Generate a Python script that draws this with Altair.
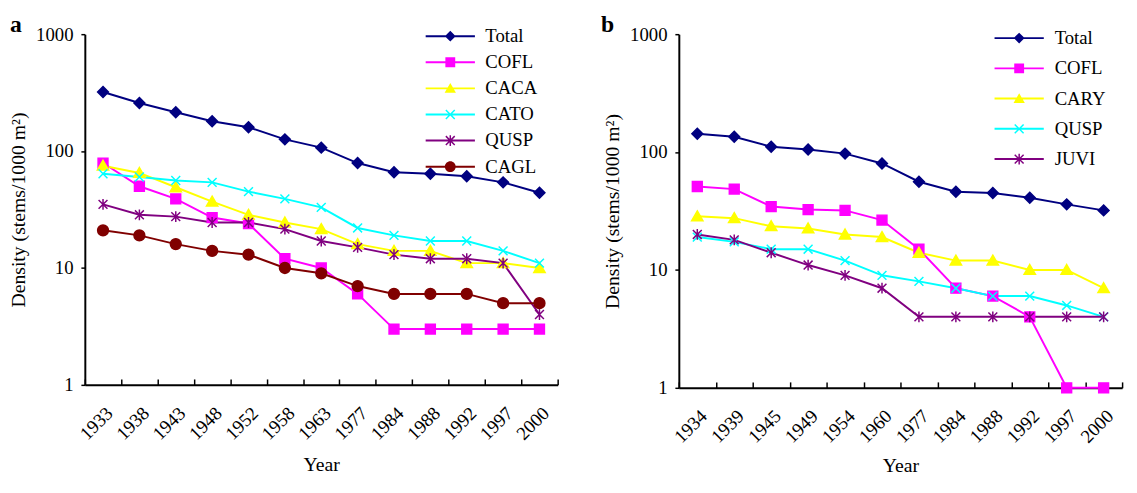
import altair as alt
import pandas as pd

# ---------------- data ----------------
years_a = ["1933", "1938", "1943", "1948", "1952", "1958", "1963", "1977", "1984", "1988", "1992", "1997", "2000"]
total_a = [320, 258, 215, 180, 160, 126, 107, 79, 66, 64, 61, 54, 44]
cofl_a = [79, 50, 39, 27, 24, 12, 10, 6, 3, 3, 3, 3, 3]
caca_a = [75, 65, 49, 37, 28.5, 24.5, 21.5, 16, 14, 14, 11, 11, 10]
cato_a = [64, 60, 56, 54, 45, 39, 33, 22, 19, 17, 17, 14, 11]
qusp_a = [35, 28.5, 27.5, 24.5, 24.5, 21.5, 17, 15, 13, 12, 12, 11, 4]
cagl_a = [21, 19, 16, 14, 13, 10, 9, 7, 6, 6, 6, 5, 5]
names_a = ["Total", "COFL", "CACA", "CATO", "QUSP", "CAGL"]

years_b = ["1934", "1939", "1945", "1949", "1954", "1960", "1977", "1984", "1988", "1992", "1997", "2000"]
total_b = [143, 135, 111, 105, 97, 80, 56, 46, 45, 41, 36, 32]
cofl_b = [51, 48.5, 34.5, 32.5, 32, 26.5, 15, 7, 6, 4, 1, 1]
cary_b = [28.5, 27.5, 23.5, 22.5, 20, 19, 14, 12, 12, 10, 10, 7]
qusp_b = [19, 17.3, 15, 15, 12, 9, 8, 7, 6, 6, 5, 4]
juvi_b = [20, 18, 14, 11, 9, 7, 4, 4, 4, 4, 4, 4]
names_b = ["Total", "COFL", "CARY", "QUSP", "JUVI"]

y_ticks = [1, 10, 100, 1000]

# ---------------- styles ----------------
FONT = "Liberation Serif"
NAVY, MAG, YEL, CYAN, PURP, MAROON = "#000080", "#FF00FF", "#FFFF00", "#00FFFF", "#800080", "#800000"

# plot markers (unit box -1..1)
DIAM = "M0,-1.1L1.1,0L0,1.1L-1.1,0Z"
SQ = "M-1,-1L1,-1L1,1L-1,1Z"
TRI = "M0,-1.1L1.15,0.9L-1.15,0.9Z"
XS = "M-0.9,-0.9L0.9,0.9M-0.9,0.9L0.9,-0.9"
AST = "M-0.9,-0.9L0.9,0.9M-0.9,0.9L0.9,-0.9M0,-1.1L0,1.1"
CIRC = "M-1.1,0A1.1,1.1 0 1,1 1.1,0A1.1,1.1 0 1,1 -1.1,0Z"

# legend glyphs: line segment + marker, all as filled outlines (same winding)
LBAR = "M-5,-0.2L5,-0.2L5,0.2L-5,0.2Z"
X_FILL = ("M-0.794,-1.006L1.006,0.794L0.794,1.006L-1.006,-0.794Z"
          "M0.794,-1.006L1.006,-0.794L-0.794,1.006L-1.006,0.794Z")
V_FILL = "M-0.15,-1.1L0.15,-1.1L0.15,1.1L-0.15,1.1Z"
L_DIAM = LBAR + DIAM
L_SQ = LBAR + SQ
L_TRI = LBAR + TRI
L_XS = LBAR + X_FILL
L_AST = LBAR + X_FILL + V_FILL
L_CIRC = LBAR + CIRC


def build_df(years, names, series):
    rows = []
    for n, vals in zip(names, series):
        for yr, v in zip(years, vals):
            rows.append({"year": yr, "value": v, "series": n})
    return pd.DataFrame(rows)


def panel(letter, years, names, series, colors, shapes, fills, lpaths, w, h,
          legx, legy, laboff, rowpad, lab_xy, year_pad):
    df = build_df(years, names, series)
    x = alt.X(
        "year:O",
        sort=years,
        scale=alt.Scale(type="band", paddingInner=0, paddingOuter=0),
        axis=alt.Axis(
            title="Year", labelAngle=-45, tickBand="extent", tickSize={"expr": "-6"},
            labelPadding=25, titlePadding=year_pad,
        ),
    )
    y = alt.Y(
        "value:Q",
        scale=alt.Scale(type="log", domain=[1, 1000], nice=False),
        axis=alt.Axis(values=y_ticks, format="d", tickSize=4, labelPadding=8,
                      title="Density (stems/1000 m²)", titlePadding=7),
    )
    color_scale = alt.Scale(domain=names, range=colors)
    lines = alt.Chart(df).mark_line(strokeWidth=2).encode(
        x=x, y=y, color=alt.Color("series:N", scale=color_scale, legend=None), detail="series:N"
    )
    points = alt.Chart(df).mark_point(size=100, strokeWidth=1.5, opacity=1).encode(
        x=x, y=y,
        color=alt.Color("series:N", scale=color_scale, legend=None),
        shape=alt.Shape("series:N", scale=alt.Scale(domain=names, range=shapes), legend=None),
        fill=alt.Fill("series:N", scale=alt.Scale(domain=names, range=fills), legend=None),
    )
    leg = alt.Legend(
        title=None, orient="none", direction="vertical", legendX=legx, legendY=legy,
        labelFont=FONT, labelFontSize=19, labelColor="black", symbolSize=100,
        symbolStrokeWidth=0, symbolOffset=0, labelOffset=laboff, rowPadding=rowpad, padding=0,
        symbolOpacity=1,
    )
    legend_layer = alt.Chart(df).mark_point(size=100, opacity=0, filled=True).encode(
        x=x, y=y,
        shape=alt.Shape("series:N", scale=alt.Scale(domain=names, range=lpaths), legend=leg),
        fill=alt.Fill("series:N", scale=alt.Scale(domain=names, range=colors), legend=leg),
    )
    letter_layer = alt.Chart(pd.DataFrame({"label": [letter]})).mark_text(
        align="left", baseline="top", font=FONT, fontSize=24, fontWeight="bold", color="black"
    ).encode(text="label:N", x=alt.value(lab_xy[0]), y=alt.value(lab_xy[1]))
    return alt.layer(lines, points, legend_layer, letter_layer).resolve_scale(
        shape="independent", fill="independent"
    ).properties(width=w, height=h)


pa = panel("a", years_a, names_a, [total_a, cofl_a, caca_a, cato_a, qusp_a, cagl_a],
           [NAVY, MAG, YEL, CYAN, PURP, MAROON],
           [DIAM, SQ, TRI, XS, AST, CIRC],
           [NAVY, MAG, YEL, "transparent", "transparent", MAROON],
           [L_DIAM, L_SQ, L_TRI, L_XS, L_AST, L_CIRC],
           480, 356, 361.5, -7.5, 26, 6.5, (-76, -21), 12)
pb = panel("b", years_b, names_b, [total_b, cofl_b, cary_b, qusp_b, juvi_b],
           [NAVY, MAG, YEL, CYAN, PURP],
           [DIAM, SQ, TRI, XS, AST],
           [NAVY, MAG, YEL, "transparent", "transparent"],
           [L_DIAM, L_SQ, L_TRI, L_XS, L_AST],
           450, 359, 336, -5.5, 26.5, 10.7, (-79, -21), 10)

chart = (
    alt.hconcat(pa, pb, spacing=37)
    .resolve_scale(color="independent", shape="independent", fill="independent",
                   x="independent", y="independent")
    .resolve_legend(color="independent", shape="independent", fill="independent")
    .properties(padding={"left": 1, "top": 2, "right": 0, "bottom": 0})
    .configure_view(stroke=None)
    .configure_axis(
        domainColor="black", domainWidth=2, tickColor="black", tickWidth=1.5, grid=False,
        labelFont=FONT, labelFontSize=19, labelColor="black",
        titleFont=FONT, titleFontSize=20, titleFontWeight="normal", titleColor="black",
    )
)

chart.save("out.html", embed_options={"renderer": "svg", "actions": False})
